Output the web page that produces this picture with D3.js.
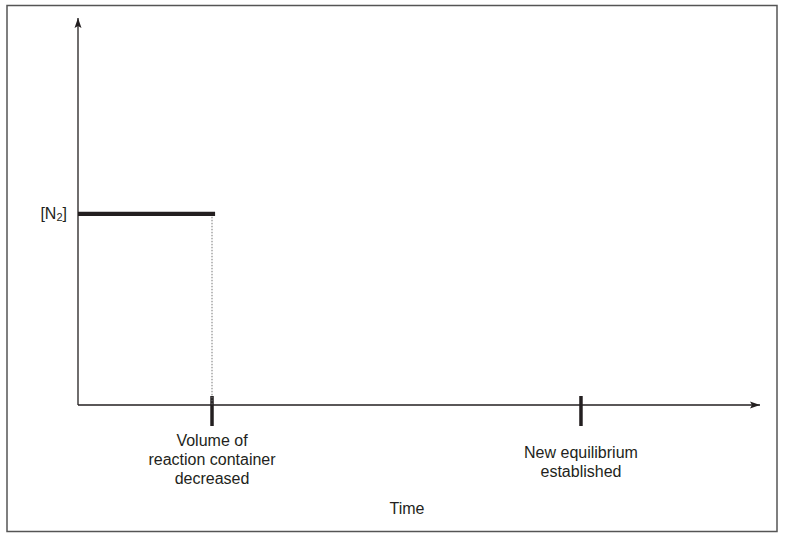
<!DOCTYPE html>
<html><head><meta charset="utf-8">
<script src="https://cdn.jsdelivr.net/npm/d3@7"></script>
<style>body{margin:0;background:#fff}svg{display:block}text{font-family:"Liberation Sans",Arial,sans-serif;fill:#231f20}</style>
</head><body><svg id="c" width="785" height="541"></svg>
<script>
// Data
const timeDomain = [0, 100];
const concDomain = [0, 100];
const eventTimes = [19.65, 73.75];
const eventLabels = [["Volume of", "reaction container", "decreased"], ["New equilibrium", "established"]];
const n2Segment = [{t: 0, c: 49.4}, {t: 20.1, c: 49.4}];
const xTitle = "Time";
const yLabel = "N";

const svg = d3.select("#c");
const x = d3.scaleLinear().domain(timeDomain).range([78, 760]);
const y = d3.scaleLinear().domain(concDomain).range([405, 18]);

// frame
svg.append("rect").attr("x", 7).attr("y", 5.5).attr("width", 770).attr("height", 526)
  .attr("fill", "none").attr("stroke", "#555").attr("stroke-width", 1.5);

const defs = svg.append("defs");
defs.append("marker").attr("id", "ah").attr("viewBox", "0 0 10 10").attr("refX", 10).attr("refY", 5)
  .attr("markerWidth", 10).attr("markerHeight", 10).attr("markerUnits", "userSpaceOnUse").attr("orient", "auto")
  .append("path").attr("d", "M0,1.5 L10,5 L0,8.5 L2,5 Z").attr("fill", "#231f20");

// axes lines with arrows
svg.append("line").attr("x1", x(0)).attr("y1", y(0)).attr("x2", x(0)).attr("y2", y(100))
  .attr("stroke", "#231f20").attr("stroke-width", 1.3).attr("marker-end", "url(#ah)");
svg.append("line").attr("x1", x(0)).attr("y1", y(0)).attr("x2", x(100)).attr("y2", y(0))
  .attr("stroke", "#231f20").attr("stroke-width", 1.3).attr("marker-end", "url(#ah)");

// event ticks
svg.selectAll(".ev").data(eventTimes).enter().append("line")
  .attr("x1", d => x(d)).attr("x2", d => x(d)).attr("y1", y(0) - 9).attr("y2", y(0) + 21)
  .attr("stroke", "#231f20").attr("stroke-width", 3.5);

// dotted drop line
svg.append("line").attr("x1", x(eventTimes[0])).attr("x2", x(eventTimes[0]))
  .attr("y1", y(n2Segment[1].c)).attr("y2", y(0))
  .attr("stroke", "#777").attr("stroke-width", 1).attr("stroke-dasharray", "1.5,1.5");

// N2 line
svg.append("path").datum(n2Segment)
  .attr("d", d3.line().x(d => x(d.t)).y(d => y(d.c)))
  .attr("stroke", "#231f20").attr("stroke-width", 4.2).attr("fill", "none");

// event labels
const baselines = [[446, 465, 484], [458, 477]];
eventLabels.forEach((lines, i) => {
  lines.forEach((l, j) => {
    svg.append("text").attr("x", x(eventTimes[i])).attr("y", baselines[i][j])
      .attr("text-anchor", "middle").attr("font-size", 16).text(l);
  });
});

// x title
svg.append("text").attr("x", 407).attr("y", 514).attr("text-anchor", "middle").attr("font-size", 16).text(xTitle);

// y label [N2]
const yl = svg.append("text").attr("x", 67).attr("y", y(49.4) + 5.5).attr("text-anchor", "end").attr("font-size", 16);
yl.append("tspan").text("[" + yLabel);
yl.append("tspan").attr("font-size", 11).attr("dy", 1.5).text("2");
yl.append("tspan").attr("dy", -1.5).text("]");
</script></body></html>
